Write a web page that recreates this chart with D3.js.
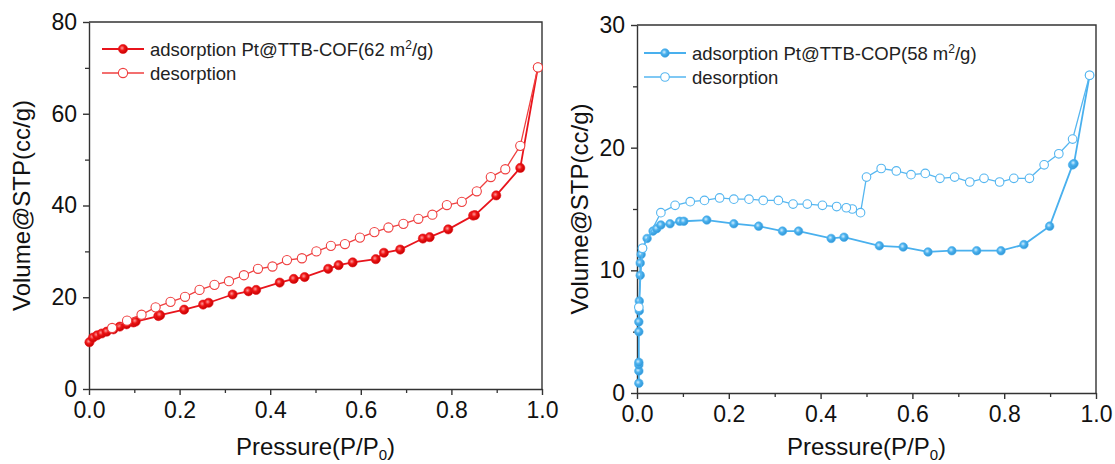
<!DOCTYPE html>
<html>
<head>
<meta charset="utf-8">
<script src="https://cdn.jsdelivr.net/npm/d3@7"></script>
<style>
  body { margin: 0; background: #fff; }
  svg { display: block; font-family: "Liberation Sans", Arial, sans-serif; }
</style>
</head>
<body>
<div id="chart"></div>
<script>
// Pt@TTB-COF isotherm (left)
const cofAdsX = [0.001, 0.009, 0.018, 0.028, 0.039, 0.054, 0.068, 0.083, 0.098, 0.103, 0.153, 0.157, 0.21, 0.252, 0.264, 0.317, 0.352, 0.369, 0.421, 0.452, 0.476, 0.528, 0.551, 0.582, 0.633, 0.651, 0.687, 0.737, 0.752, 0.793, 0.848, 0.852, 0.899, 0.952, 0.991];
const cofAdsY = [10.2, 11.2, 11.7, 12.1, 12.5, 13.0, 13.6, 14.1, 14.5, 14.7, 15.9, 16.1, 17.3, 18.4, 18.8, 20.6, 21.3, 21.6, 23.2, 24.0, 24.4, 26.2, 27.0, 27.6, 28.3, 29.7, 30.4, 32.8, 33.1, 34.8, 37.8, 37.9, 42.2, 48.2, 70.1];
const cofDesX = [0.991, 0.952, 0.919, 0.887, 0.856, 0.823, 0.79, 0.758, 0.727, 0.694, 0.661, 0.63, 0.598, 0.565, 0.534, 0.502, 0.47, 0.437, 0.405, 0.373, 0.342, 0.309, 0.277, 0.244, 0.212, 0.18, 0.147, 0.116, 0.084, 0.051];
const cofDesY = [70.1, 53.0, 47.9, 46.2, 43.1, 40.8, 40.1, 38.0, 37.1, 36.0, 35.2, 34.2, 33.0, 31.6, 31.2, 30.0, 28.5, 28.1, 26.7, 26.2, 24.8, 23.5, 22.7, 21.6, 20.1, 19.0, 17.8, 16.2, 14.9, 13.3];

// Pt@TTB-COP isotherm (right)
const copAdsX = [0.004, 0.004, 0.004, 0.004, 0.004, 0.004, 0.005, 0.005, 0.007, 0.007, 0.009, 0.012, 0.022, 0.035, 0.043, 0.052, 0.072, 0.093, 0.102, 0.152, 0.211, 0.265, 0.317, 0.352, 0.423, 0.451, 0.528, 0.58, 0.634, 0.686, 0.74, 0.793, 0.843, 0.899, 0.949, 0.952, 0.986];
const copAdsY = [0.8, 1.8, 2.3, 2.5, 5.0, 5.8, 6.7, 7.5, 9.6, 10.6, 11.3, 11.8, 12.6, 13.2, 13.4, 13.7, 13.8, 14.0, 14.0, 14.1, 13.8, 13.6, 13.2, 13.2, 12.6, 12.7, 12.0, 11.9, 11.5, 11.6, 11.6, 11.6, 12.1, 13.6, 18.6, 18.7, 25.9];
const copDesX = [0.986, 0.949, 0.919, 0.887, 0.855, 0.821, 0.79, 0.756, 0.725, 0.692, 0.66, 0.628, 0.597, 0.565, 0.532, 0.5, 0.487, 0.469, 0.456, 0.435, 0.404, 0.371, 0.34, 0.308, 0.275, 0.244, 0.211, 0.18, 0.147, 0.116, 0.083, 0.052, 0.012, 0.004];
const copDesY = [25.9, 20.7, 19.5, 18.6, 17.5, 17.5, 17.2, 17.5, 17.2, 17.6, 17.5, 17.9, 17.8, 18.1, 18.3, 17.6, 14.7, 15.0, 15.1, 15.2, 15.3, 15.4, 15.4, 15.7, 15.7, 15.8, 15.8, 15.9, 15.7, 15.6, 15.3, 14.7, 11.8, 7.0];

const xTicks = [0, 0.2, 0.4, 0.6, 0.8, 1.0];

const svg = d3.select("#chart").append("svg")
    .attr("width", 1115)
    .attr("height", 464);

const defs = svg.append("defs");
function ballGradient(id, light, mid, dark) {
    const g = defs.append("radialGradient").attr("id", id)
        .attr("cx", "40%").attr("cy", "40%").attr("r", "60%");
    g.append("stop").attr("offset", "0%").attr("stop-color", light);
    g.append("stop").attr("offset", "45%").attr("stop-color", mid);
    g.append("stop").attr("offset", "100%").attr("stop-color", dark);
}
ballGradient("ballRed", "#ff9a9a", "#ee1515", "#c40000");
ballGradient("ballBlue", "#d2eeff", "#4cb2ee", "#2f95d6");

const zip = (xs, ys) => xs.map((x, i) => ({x: x, y: ys[i]}));

function panel(opt) {
    const x = d3.scaleLinear().domain([0, 1]).range([opt.left, opt.right]);
    const y = d3.scaleLinear().domain([0, opt.yMax]).range([opt.bottom, opt.top]);
    const g = svg.append("g");
    const axisColor = "#333";

    // minor ticks
    g.append("g")
        .attr("transform", `translate(0,${opt.bottom})`)
        .call(d3.axisBottom(x).tickValues(d3.range(0.1, 1, 0.2)).tickSize(4).tickFormat(""))
        .call(s => s.select(".domain").remove())
        .selectAll("line").attr("stroke", axisColor).attr("stroke-width", 1.3);
    g.append("g")
        .attr("transform", `translate(${opt.left},0)`)
        .call(d3.axisLeft(y).tickValues(opt.yMinor).tickSize(4).tickFormat(""))
        .call(s => s.select(".domain").remove())
        .selectAll("line").attr("stroke", axisColor).attr("stroke-width", 1.3);

    // major axes
    const xa = g.append("g")
        .attr("transform", `translate(0,${opt.bottom})`)
        .call(d3.axisBottom(x).tickValues(xTicks).tickSize(6).tickSizeOuter(0).tickPadding(7).tickFormat(d3.format(".1f")));
    const ya = g.append("g")
        .attr("transform", `translate(${opt.left},0)`)
        .call(d3.axisLeft(y).tickValues(opt.yTicks).tickSize(6).tickSizeOuter(0).tickPadding(6).tickFormat(d3.format("d")));
    [xa, ya].forEach(a => {
        a.selectAll("line, path").attr("stroke", axisColor).attr("stroke-width", 1.4);
        a.selectAll("text").attr("fill", "#111").style("font-size", "23px")
            .style("font-family", "'Liberation Sans', Arial, sans-serif");
    });

    // frame top and right
    g.append("path")
        .attr("d", `M${opt.left},${opt.top}H${opt.right}V${opt.bottom}`)
        .attr("fill", "none").attr("stroke", axisColor).attr("stroke-width", 1.4);

    // axis titles
    const xt = g.append("text")
        .attr("x", (opt.left + opt.right) / 2)
        .attr("y", 455)
        .attr("text-anchor", "middle")
        .attr("fill", "#111")
        .style("font-size", "24px");
    xt.append("tspan").text("Pressure(P/P");
    xt.append("tspan").attr("dy", 5).style("font-size", "15px").text("0");
    xt.append("tspan").attr("dy", -5).text(")");

    g.append("text")
        .attr("transform", `translate(${opt.titleX},${(opt.top + opt.bottom) / 2}) rotate(-90)`)
        .attr("text-anchor", "middle")
        .attr("fill", "#111")
        .style("font-size", "24px")
        .text("Volume@STP(cc/g)");

    const line = d3.line().x(d => x(d.x)).y(d => y(d.y));

    // adsorption
    g.append("path")
        .datum(opt.ads)
        .attr("d", line)
        .attr("fill", "none")
        .attr("stroke", opt.color)
        .attr("stroke-width", 1.8);
    g.selectAll(".ads")
        .data(opt.ads)
        .enter().append("circle")
        .attr("class", "ads")
        .attr("cx", d => x(d.x))
        .attr("cy", d => y(d.y))
        .attr("r", opt.r)
        .attr("fill", `url(#${opt.ball})`)
        .attr("stroke", opt.color)
        .attr("stroke-width", 0.6);

    // desorption
    g.append("path")
        .datum(opt.des)
        .attr("d", line)
        .attr("fill", "none")
        .attr("stroke", opt.desColor)
        .attr("stroke-width", 1.3);
    g.selectAll(".des")
        .data(opt.des)
        .enter().append("circle")
        .attr("class", "des")
        .attr("cx", d => x(d.x))
        .attr("cy", d => y(d.y))
        .attr("r", opt.r)
        .attr("fill", "#fff")
        .attr("stroke", opt.desColor)
        .attr("stroke-width", 1.1);

    // legend
    const lg = g.append("g");
    const rows = [
        {label: opt.label, sup: "2", tail: "/g)", filled: true},
        {label: "desorption", filled: false}
    ];
    rows.forEach((row, i) => {
        const ly = opt.legY + i * 24;
        lg.append("line")
            .attr("x1", opt.legX).attr("x2", opt.legX + 42)
            .attr("y1", ly).attr("y2", ly)
            .attr("stroke", row.filled ? opt.color : opt.desColor)
            .attr("stroke-width", row.filled ? 1.8 : 1.3);
        lg.append("circle")
            .attr("cx", opt.legX + 21).attr("cy", ly).attr("r", opt.r)
            .attr("fill", row.filled ? `url(#${opt.ball})` : "#fff")
            .attr("stroke", row.filled ? opt.color : opt.desColor)
            .attr("stroke-width", row.filled ? 0.6 : 1.1);
        const t = lg.append("text")
            .attr("x", opt.legX + 48).attr("y", ly + 6.5)
            .attr("fill", "#222")
            .style("font-size", "18.5px");
        t.append("tspan").text(row.label);
        if (row.sup) {
            t.append("tspan").attr("dy", -7).style("font-size", "12px").text(row.sup);
            t.append("tspan").attr("dy", 7).text(row.tail);
        }
    });
}

panel({
    left: 89, right: 542, top: 22, bottom: 389,
    yMax: 80, yTicks: [0, 20, 40, 60, 80], yMinor: [10, 30, 50, 70],
    titleX: 30,
    ads: zip(cofAdsX, cofAdsY), des: zip(cofDesX, cofDesY),
    color: "#e8141c", desColor: "#ef3f3f", ball: "ballRed", r: 4.6,
    legX: 102, legY: 49,
    label: "adsorption Pt@TTB-COF(62 m"
});

panel({
    left: 637, right: 1096, top: 25, bottom: 393,
    yMax: 30, yTicks: [0, 10, 20, 30], yMinor: [5, 15, 25],
    titleX: 588,
    ads: zip(copAdsX, copAdsY), des: zip(copDesX, copDesY),
    color: "#49b0ee", desColor: "#55b6f0", ball: "ballBlue", r: 4.3,
    legX: 644, legY: 53,
    label: "adsorption Pt@TTB-COP(58 m"
});
</script>
</body>
</html>
